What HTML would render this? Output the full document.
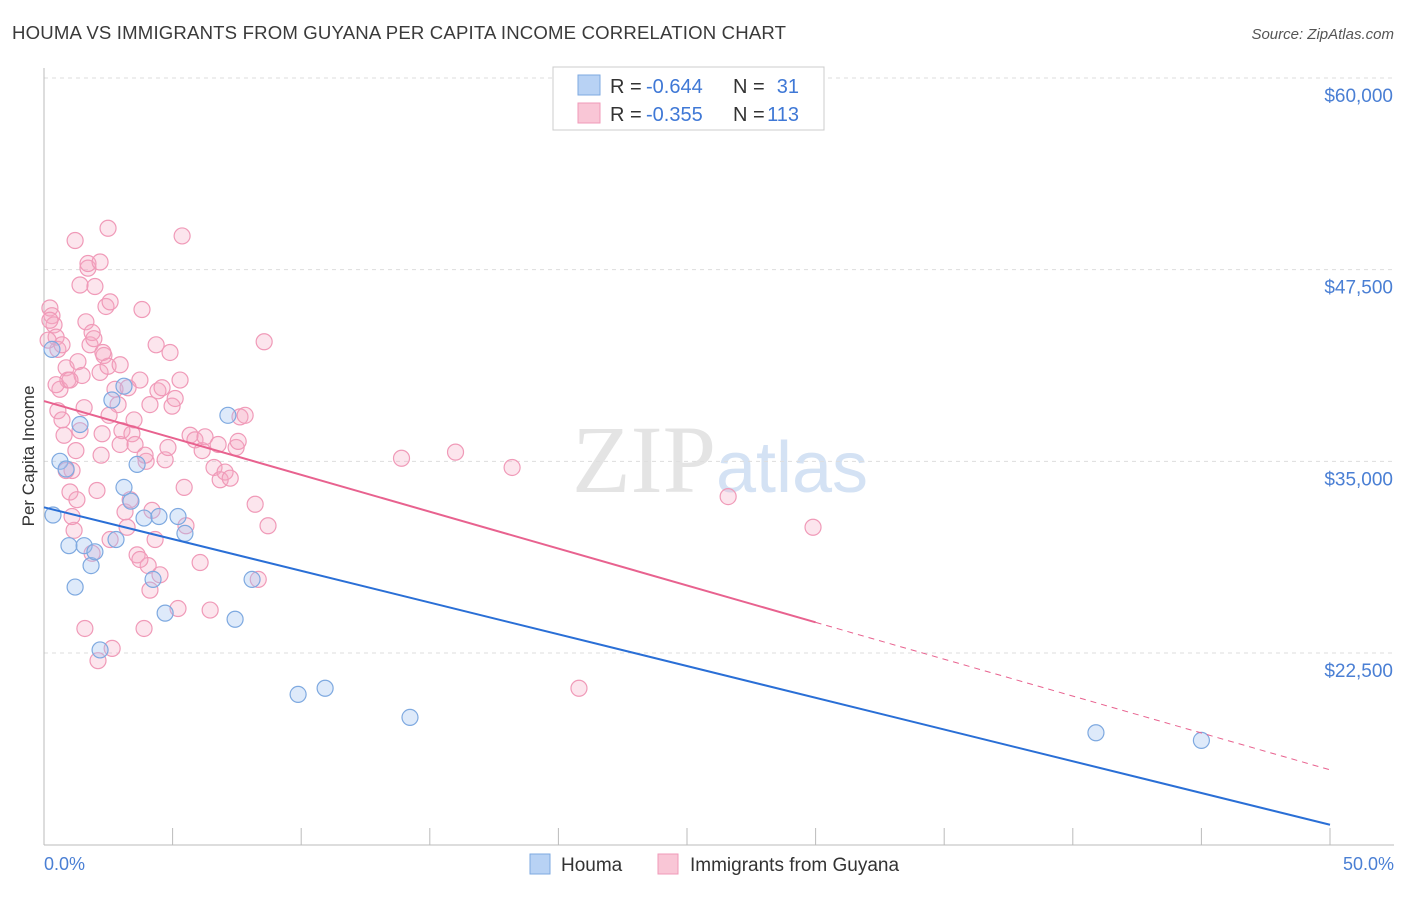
<!DOCTYPE html>
<html><head><meta charset="utf-8"><style>
body{margin:0;background:#fff;font-family:"Liberation Sans",sans-serif;}
</style></head><body>
<svg id="chart" width="1406" height="892" xmlns="http://www.w3.org/2000/svg" font-family="Liberation Sans, sans-serif">
<text x="12" y="39" font-size="18.6" fill="#3a3a3a" textLength="774">HOUMA VS IMMIGRANTS FROM GUYANA PER CAPITA INCOME CORRELATION CHART</text>
<text x="1394" y="39" font-size="15" fill="#555" text-anchor="end" font-style="italic">Source: ZipAtlas.com</text>
<text x="720" y="492" font-size="96" fill="#e4e4e4" text-anchor="middle" font-family="Liberation Serif, serif">ZIP<tspan fill="#d4e2f4" font-family="Liberation Sans, sans-serif" font-size="72">atlas</tspan></text>
<text transform="translate(34,456) rotate(-90)" font-size="17" fill="#333" text-anchor="middle">Per Capita Income</text>
<g id="grid"></g><g id="ticks"></g>
<line x1="44" y1="68" x2="44" y2="845" stroke="#bbb"/>
<line x1="44" y1="845" x2="1394" y2="845" stroke="#bbb"/>
<g id="pts"></g><g id="lines"></g>
<text x="44" y="870" font-size="18" fill="#4a7fd4">0.0%</text>
<text x="1394" y="870" font-size="18" fill="#4a7fd4" text-anchor="end">50.0%</text>
<g font-size="20">
<rect x="553" y="67" width="271" height="63" fill="#fff" stroke="#ccc"/>
<rect x="578" y="75" width="22" height="20" fill="#b8d2f4" stroke="#7ea9e0"/>
<rect x="578" y="103" width="22" height="20" fill="#f9c6d6" stroke="#f09ab8"/>
<text x="610" y="93" fill="#333">R =</text><text x="646" y="93" fill="#3f78d6">-0.644</text>
<text x="733" y="93" fill="#333">N =</text><text x="799" y="93" fill="#3f78d6" text-anchor="end">31</text>
<text x="610" y="121" fill="#333">R =</text><text x="646" y="121" fill="#3f78d6">-0.355</text>
<text x="733" y="121" fill="#333">N =</text><text x="799" y="121" fill="#3f78d6" text-anchor="end">113</text>
</g>
<g>
<rect x="530" y="854" width="20" height="20" fill="#b8d2f4" stroke="#7ea9e0"/>
<text x="561" y="871" font-size="19" fill="#333">Houma</text>
<rect x="658" y="854" width="20" height="20" fill="#f9c6d6" stroke="#f09ab8"/>
<text x="690" y="871" font-size="19" fill="#333">Immigrants from Guyana</text>
</g>
</svg>
<script>
const yTicks=[22500,35000,47500,60000];
const yTickLabels=["$22,500","$35,000","$47,500","$60,000"];
const xTicks=[0,5,10,15,20,25,30,35,40,45,50];
const houmaX=[0.35,0.62,0.86,0.97,1.21,1.40,1.56,1.83,1.98,2.18,2.64,2.80,3.11,3.11,3.38,3.62,3.89,4.24,4.47,4.71,5.21,5.48,7.15,7.43,8.09,9.88,10.93,14.23,40.9,45.0,0.31];
const houmaY=[31.5,35.0,34.5,29.5,26.8,37.4,29.5,28.2,29.1,22.7,39.0,29.9,39.9,33.3,32.4,34.8,31.3,27.3,31.4,25.1,31.4,30.3,38.0,24.7,27.3,19.8,20.2,18.3,17.3,16.8,42.3];
const guyX=[0.23,0.31,0.39,0.47,0.54,0.23,0.16,0.62,0.54,0.70,0.78,0.86,0.93,1.01,1.09,1.17,1.24,1.32,1.40,1.48,1.56,1.63,1.71,1.79,1.87,1.98,2.10,2.18,2.26,2.33,2.41,2.49,2.57,2.65,2.76,2.88,2.96,3.03,3.15,3.23,3.35,3.42,3.54,3.62,3.73,3.81,3.89,3.97,4.05,4.12,4.20,4.32,4.43,4.51,4.59,4.71,4.82,4.90,4.98,5.10,5.21,5.29,5.37,5.45,5.52,5.68,5.87,6.07,6.15,6.26,6.46,6.61,6.77,6.85,7.04,7.24,7.47,7.55,7.62,7.82,8.21,8.33,8.56,8.71,13.9,16.0,18.2,20.8,26.6,29.9,1.59,1.21,1.71,1.40,1.87,1.94,2.06,2.22,2.49,2.53,2.96,3.27,3.50,3.73,3.93,4.12,4.36,0.70,0.47,0.86,1.09,1.28,2.18,2.29,2.57,1.01];
const guyY=[45.0,44.5,43.9,43.1,42.3,44.2,42.9,39.7,38.3,37.7,36.7,41.1,40.3,33.0,34.4,30.5,35.7,41.5,37.0,40.6,38.5,44.1,47.6,42.6,29.0,46.4,22.0,40.8,36.8,41.9,45.1,50.2,29.9,22.8,39.7,38.7,36.1,37.0,31.7,30.7,32.5,36.8,36.1,28.9,40.3,44.9,24.1,35.0,28.2,38.7,31.8,29.9,39.6,27.6,39.8,35.1,35.9,42.1,38.6,39.1,25.4,40.3,49.7,33.3,30.8,36.7,36.4,28.4,35.7,36.6,25.3,34.6,36.1,33.8,34.3,33.9,35.9,36.3,37.9,38.0,32.2,27.3,42.8,30.8,35.2,35.6,34.6,20.2,32.7,30.7,24.1,49.4,47.9,46.5,43.4,43.0,33.1,35.4,41.2,38.0,41.3,39.8,37.7,28.6,35.4,26.6,42.6,42.6,40.0,34.4,31.4,32.5,48.0,42.1,45.4,40.3];
const houmaTrend=[32.0,11.3];
const guyTrend=[38.93,14.88];
const guySolidEnd=30;
const NS="http://www.w3.org/2000/svg";
function sx(v){return 44+v/50*1286;}
function sy(v){return 78+(60000-v)/37500*575;}
function mk(t,a,p){const e=document.createElementNS(NS,t);for(const k in a)e.setAttribute(k,a[k]);document.getElementById(p).appendChild(e);return e;}
yTicks.forEach((v,i)=>{
 const g=mk('line',{x1:44,x2:1394,y1:sy(v),y2:sy(v),stroke:'#ddd','stroke-dasharray':'4,4'},'grid');
 
 
 const t=mk('text',{x:1393,y:sy(v)+24,'font-size':19,fill:'#4a7fd4','text-anchor':'end'},'grid');
 t.textContent=yTickLabels[i];
 
 
});
xTicks.forEach(v=>{
 const l=mk('line',{x1:sx(v),x2:sx(v),y1:828,y2:845,stroke:'#bbb'},'ticks');
 
 
});
guyX.forEach((x,i)=>{
 const c=mk('circle',{cx:sx(x),cy:sy(guyY[i]*1000),r:8,fill:'rgba(244,170,195,0.3)',stroke:'#f09ab8','stroke-width':1.2},'pts');
 
 
});
houmaX.forEach((x,i)=>{
 const c=mk('circle',{cx:sx(x),cy:sy(houmaY[i]*1000),r:8,fill:'rgba(160,196,240,0.35)',stroke:'#7ea9e0','stroke-width':1.2},'pts');
 
 
});
const hl=mk('line',{x1:sx(0),y1:sy(houmaTrend[0]*1000),x2:sx(50),y2:sy(houmaTrend[1]*1000),stroke:'#2a6fd6','stroke-width':2},'lines');


const gm=guyTrend[0]+(guyTrend[1]-guyTrend[0])*guySolidEnd/50;
const gl=mk('line',{x1:sx(0),y1:sy(guyTrend[0]*1000),x2:sx(guySolidEnd),y2:sy(gm*1000),stroke:'#e8628f','stroke-width':2},'lines');


const gd=mk('line',{x1:sx(guySolidEnd),y1:sy(gm*1000),x2:sx(50),y2:sy(guyTrend[1]*1000),stroke:'#e8628f','stroke-width':1,'stroke-dasharray':'6,5'},'lines');


</script>
</body></html>
